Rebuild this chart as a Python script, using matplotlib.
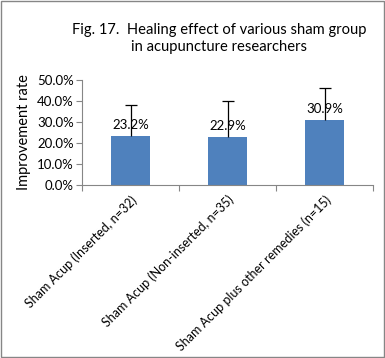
import matplotlib.pyplot as plt
import matplotlib.patches as patches
import numpy as np

# Data
groups = ['Sham Acup (Inserted, n=32)',
          'Sham Acup (Non-inserted, n=35)',
          'Sham Acup plus other remedies (n=15)']
rates = [23.2, 22.9, 30.9]
errors = [14.7, 17.1, 15.0]
yticks = [0, 10, 20, 30, 40, 50]

plt.rcParams['font.family'] = ['Lato', 'DejaVu Sans']

fig = plt.figure(figsize=(3.85, 3.58), dpi=100)
ax = fig.add_axes([0.213, 0.483, 0.756, 0.294])

x = np.arange(len(groups))
ax.bar(x, rates, width=0.4, color='#4F81BD', zorder=2)

# upper-only error bars
eb = ax.errorbar(x, rates, yerr=errors, fmt='none', ecolor='black',
                 elinewidth=0.9, capsize=4, capthick=0.9, zorder=3)
eb[1][0].set_visible(False)
eb[2][0].set_segments([[(xi, r), (xi, r + e)] for xi, r, e in zip(x, rates, errors)])

for xi, r in zip(x, rates):
    ax.text(xi, r + 2.5, f'{r:.1f}%', ha='center', va='bottom', fontsize=9.5, zorder=4)

ax.set_xlim(-0.5, len(groups) - 0.5)
ax.set_ylim(0, 50)
ax.set_yticks(yticks)
ax.set_yticklabels([f'{v:.1f}%' for v in yticks], fontsize=9.5)
ax.set_xticks(np.arange(len(groups) + 1) - 0.5)
ax.set_xticklabels([])
ax.set_xticks(x, minor=True)
ax.set_xticklabels(groups, minor=True, rotation=45, ha='right',
                   rotation_mode='anchor', fontsize=9)
ax.tick_params(axis='x', which='minor', length=0, pad=6)
ax.tick_params(axis='x', which='major', length=4, color='#868686', direction='out')
ax.tick_params(axis='y', length=4, color='#868686', direction='out', pad=2)

for side in ['top', 'right']:
    ax.spines[side].set_visible(False)
for side in ['left', 'bottom']:
    ax.spines[side].set_color('#868686')

ax.set_ylabel('Improvement rate', fontsize=10.5, labelpad=4)

fig.text(0.57, 0.893, 'Fig. 17.  Healing effect of various sham group\nin acupuncture researchers',
         ha='center', va='center', fontsize=10.6, linespacing=1.25)

fig.patches.append(patches.Rectangle((0.002, 0.003), 0.995, 0.994, transform=fig.transFigure,
                                     fill=False, edgecolor='#868686', linewidth=1))

plt.savefig('out.png', dpi=100)
